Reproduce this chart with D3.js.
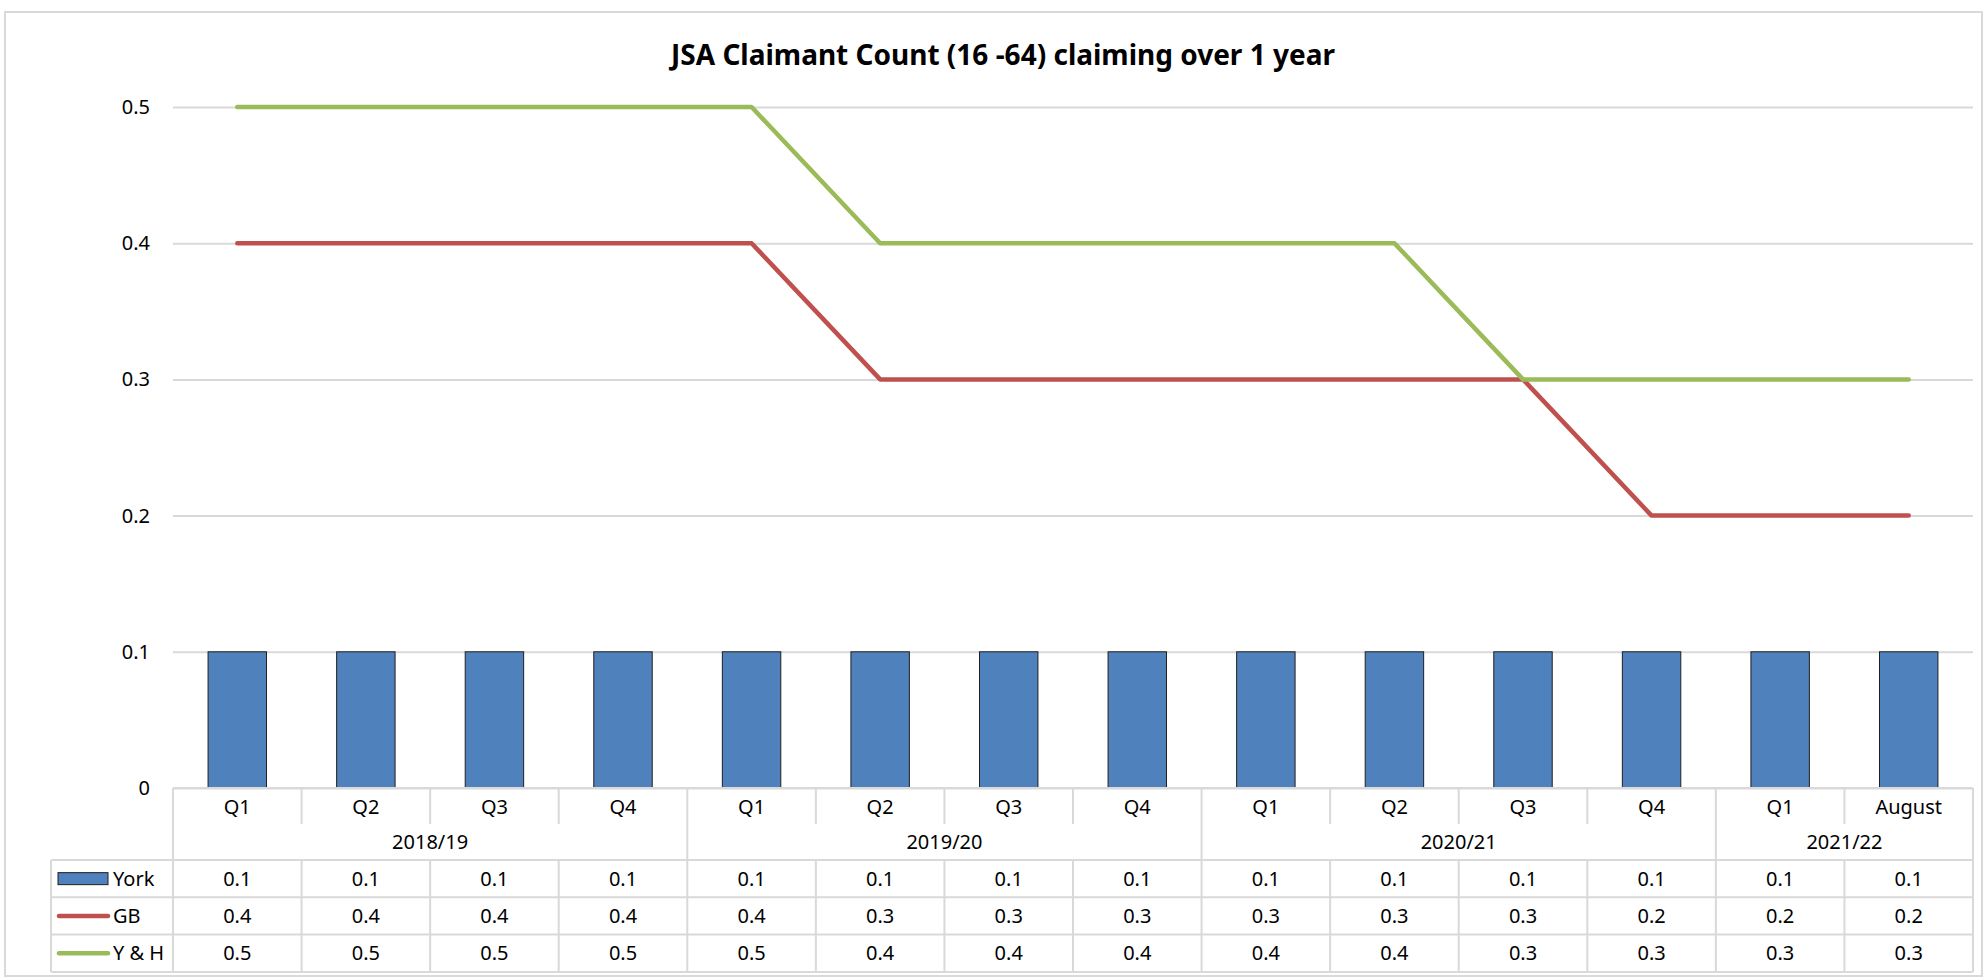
<!DOCTYPE html>
<html>
<head>
<meta charset="utf-8">
<script src="https://cdn.jsdelivr.net/npm/d3@7"></script>
<style>
  body { margin: 0; background: #fff; }
  svg { display: block; font-family: "Noto Sans", sans-serif; }
</style>
</head>
<body>
<svg id="chart" width="1987" height="978"></svg>
<script>
const categories = ["Q1", "Q2", "Q3", "Q4", "Q1", "Q2", "Q3", "Q4", "Q1", "Q2", "Q3", "Q4", "Q1", "August"];
const years = ["2018/19", "2019/20", "2020/21", "2021/22"];
const yearSpans = [4, 4, 4, 2];
const york = [0.1, 0.1, 0.1, 0.1, 0.1, 0.1, 0.1, 0.1, 0.1, 0.1, 0.1, 0.1, 0.1, 0.1];
const gb = [0.4, 0.4, 0.4, 0.4, 0.4, 0.3, 0.3, 0.3, 0.3, 0.3, 0.3, 0.2, 0.2, 0.2];
const yh = [0.5, 0.5, 0.5, 0.5, 0.5, 0.4, 0.4, 0.4, 0.4, 0.4, 0.3, 0.3, 0.3, 0.3];
const yTicks = [0, 0.1, 0.2, 0.3, 0.4, 0.5];

const series = [
  { name: "York", values: york, color: "#4F81BD", type: "bar" },
  { name: "GB", values: gb, color: "#C0504D", type: "line" },
  { name: "Y & H", values: yh, color: "#9BBB59", type: "line" }
];

const svg = d3.select("#chart");
const plotLeft = 173, plotRight = 1973, plotTop = 107, zeroY = 788;
const grid = "#d9d9d9";

// outer frame
svg.append("rect")
  .attr("x", 5).attr("y", 12).attr("width", 1977).attr("height", 964)
  .attr("fill", "none").attr("stroke", grid).attr("stroke-width", 2);

svg.append("text")
  .attr("x", 1003).attr("y", 65)
  .attr("text-anchor", "middle")
  .attr("font-size", 28).attr("font-weight", "bold")
  .text("JSA Claimant Count (16 -64) claiming over 1 year");

const x = d3.scaleBand().domain(d3.range(categories.length)).range([plotLeft, plotRight]);
const y = d3.scaleLinear().domain([0, 0.5]).range([zeroY, plotTop]);

// y axis with gridlines
const yAxis = svg.append("g")
  .attr("transform", `translate(${plotLeft},0)`)
  .call(d3.axisLeft(y).tickValues(yTicks)
    .tickFormat(d => d === 0 ? "0" : d.toFixed(1))
    .tickSizeInner(-(plotRight - plotLeft)).tickSizeOuter(0).tickPadding(23));
yAxis.select(".domain").remove();
yAxis.selectAll(".tick line").attr("stroke", grid).attr("stroke-width", 2);
yAxis.selectAll(".tick text").attr("font-size", 20).attr("fill", "#000")
  .attr("font-family", "Noto Sans");

// bars
const barW = x.bandwidth() / 2.2;
svg.append("g").selectAll("rect")
  .data(york)
  .join("rect")
  .attr("x", (d, i) => x(i) + (x.bandwidth() - barW) / 2)
  .attr("y", d => y(d))
  .attr("width", barW)
  .attr("height", d => zeroY - y(d))
  .attr("fill", "#4F81BD")
  .attr("stroke", "#1f1f1f")
  .attr("stroke-width", 1);

// lines
const line = d3.line()
  .x((d, i) => x(i) + x.bandwidth() / 2)
  .y(d => y(d));
series.filter(s => s.type === "line").forEach(s => {
  svg.append("path")
    .attr("d", line(s.values))
    .attr("fill", "none")
    .attr("stroke", s.color)
    .attr("stroke-width", 4.5)
    .attr("stroke-linejoin", "round")
    .attr("stroke-linecap", "round");
});

// data table
const tbl = svg.append("g").attr("stroke", grid).attr("stroke-width", 2);
const qBottom = 824, yearBottom = 860, rowH = 37.3, tableBottom = yearBottom + rowH * 3;
const legendLeft = 51;

tbl.append("line").attr("x1", plotLeft).attr("x2", plotRight).attr("y1", zeroY).attr("y2", zeroY);
for (let r = 0; r <= 3; r++) {
  const yy = yearBottom + r * rowH;
  tbl.append("line").attr("x1", legendLeft).attr("x2", plotRight).attr("y1", yy).attr("y2", yy);
}
tbl.append("line").attr("x1", legendLeft).attr("x2", legendLeft).attr("y1", yearBottom).attr("y2", tableBottom);

// group boundaries (full height) and column boundaries
const groupStarts = [0];
yearSpans.forEach((n, i) => groupStarts.push(groupStarts[i] + n));
d3.range(categories.length + 1).forEach(i => {
  const xx = i === categories.length ? plotRight : x(i);
  const isGroup = groupStarts.includes(i);
  tbl.append("line").attr("x1", xx).attr("x2", xx)
    .attr("y1", zeroY).attr("y2", isGroup ? tableBottom : qBottom);
  if (!isGroup) {
    tbl.append("line").attr("x1", xx).attr("x2", xx)
      .attr("y1", yearBottom).attr("y2", tableBottom);
  }
});

const txt = svg.append("g").attr("font-size", 20).attr("fill", "#000")
  .attr("text-anchor", "middle");
txt.selectAll("text.cat").data(categories).join("text")
  .attr("class", "cat")
  .attr("x", (d, i) => x(i) + x.bandwidth() / 2)
  .attr("y", 807).attr("dy", "0.35em")
  .text(d => d);
txt.selectAll("text.year").data(years).join("text")
  .attr("class", "year")
  .attr("x", (d, i) => (x(groupStarts[i]) + (groupStarts[i + 1] === categories.length ? plotRight : x(groupStarts[i + 1]))) / 2)
  .attr("y", 842).attr("dy", "0.35em")
  .text(d => d);

series.forEach((s, r) => {
  const cy = yearBottom + rowH * (r + 0.5);
  txt.append("g").selectAll("text").data(s.values).join("text")
    .attr("x", (d, i) => x(i) + x.bandwidth() / 2)
    .attr("y", cy).attr("dy", "0.35em")
    .text(d => d.toFixed(1));
  // legend key
  if (s.type === "bar") {
    svg.append("rect").attr("x", 58).attr("y", cy - 6).attr("width", 50).attr("height", 12)
      .attr("fill", s.color).attr("stroke", "#1f1f1f").attr("stroke-width", 1);
  } else {
    svg.append("line").attr("x1", 59).attr("x2", 108).attr("y1", cy).attr("y2", cy)
      .attr("stroke", s.color).attr("stroke-width", 4.5).attr("stroke-linecap", "round");
  }
  svg.append("text").attr("x", 113).attr("y", cy).attr("dy", "0.35em")
    .attr("font-size", 20).attr("fill", "#000")
    .text(s.name);
});
</script>
</body>
</html>
